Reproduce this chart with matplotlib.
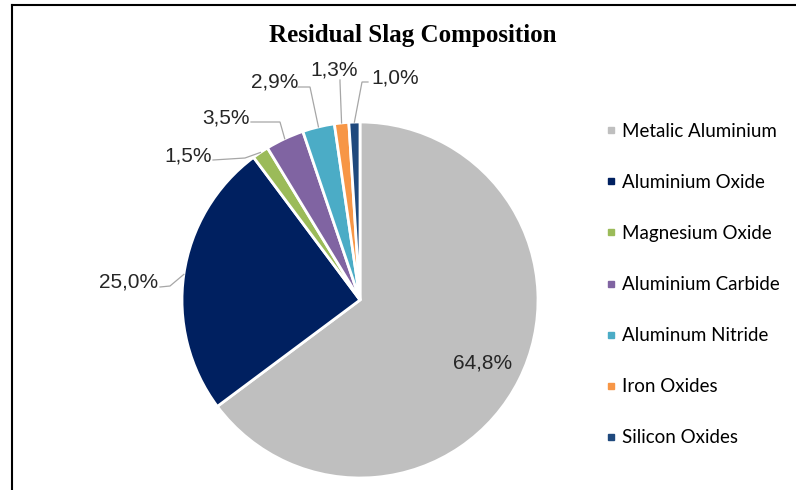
import matplotlib
matplotlib.use('Agg')
from matplotlib import pyplot as plt
from matplotlib.lines import Line2D
import numpy as np

# data
components = ['Metalic Aluminium', 'Aluminium Oxide', 'Magnesium Oxide',
              'Aluminium Carbide', 'Aluminum Nitride', 'Iron Oxides',
              'Silicon Oxides']
shares = [64.8, 25.0, 1.5, 3.5, 2.9, 1.3, 1.0]
colors = ['#BFBFBF', '#002060', '#9BBB59', '#8064A2', '#4BACC6', '#F79646',
          '#1F497D']

W, H = 796, 490

# label layout in pixels (from top-left): text anchor (baseline), leader start, elbow
outer_labels = {
    1: dict(text=(129, 288), start=(160, 287), elbow=(170, 286)),
    2: dict(text=(188, 162), start=(213, 160), elbow=(245, 158)),
    3: dict(text=(226, 123), start=(251, 122), elbow=(280, 122)),
    4: dict(text=(275, 88), start=(298, 87), elbow=(310, 87)),
    5: dict(text=(334, 75), start=(340, 80), elbow=(340, 82)),
    6: dict(text=(395, 83), start=(368, 82), elbow=(362, 82)),
}


def px(x, y):
    # pixel position (top-left origin) -> data coords of the full-figure axes
    return x, H - y


def fmt(v):
    return ('%.1f%%' % v).replace('.', ',')


fig = plt.figure(figsize=(W / 100, H / 100), dpi=100)
ax = fig.add_axes([0, 0, 1, 1])

cx, cy = px(360, 300)
radius = 178
wedges, _ = ax.pie(shares, colors=colors, startangle=90, counterclock=False,
                   center=(cx, cy), radius=radius,
                   wedgeprops=dict(edgecolor='white', linewidth=2))
ax.set_xlim(0, W)
ax.set_ylim(0, H)
ax.set_aspect('equal')
ax.axis('off')

label_font = dict(family='Liberation Sans', size=15, color='#262626')

# inside label for the big slice
w = wedges[0]
mid = np.deg2rad((w.theta1 + w.theta2) / 2)
ax.text(cx + 0.77 * radius * np.cos(mid), cy + 0.77 * radius * np.sin(mid) - 7,
        fmt(shares[0]), ha='center', va='baseline', **label_font)

for i, lay in outer_labels.items():
    w = wedges[i]
    mid = np.deg2rad((w.theta1 + w.theta2) / 2)
    ex, ey = cx + radius * np.cos(mid), cy + radius * np.sin(mid)
    tx, ty = px(*lay['text'])
    ax.text(tx, ty, fmt(shares[i]), ha='center', va='baseline', **label_font)
    sx, sy = px(*lay['start'])
    bx, by = px(*lay['elbow'])
    ax.plot([sx, bx, ex], [sy, by, ey], color='#A6A6A6', lw=0.9,
            solid_joinstyle='miter')

# legend
handles = [Line2D([], [], ls='none', marker='s', markersize=4.3,
                  markerfacecolor=c, markeredgecolor=c) for c in colors]
leg = fig.legend(handles, components, loc='upper left',
                 bbox_to_anchor=(605 / W, 1 - 123 / H),
                 frameon=False, prop=dict(family='Lato', size=13.5),
                 handlelength=0.6, handletextpad=0.3, labelspacing=1.815,
                 borderpad=0, borderaxespad=0)

# title
fig.text(413 / W, 1 - 42 / H, 'Residual Slag Composition', ha='center',
         va='baseline', family='Liberation Serif', weight='bold', size=18)

# frame lines (top and left)
fig.add_artist(Line2D([11.5 / W, 1], [1 - 5 / H, 1 - 5 / H],
                      transform=fig.transFigure, color='black', lw=1.5))
fig.add_artist(Line2D([11.5 / W, 11.5 / W], [0, 1 - 5 / H],
                      transform=fig.transFigure, color='black', lw=1.5))

fig.savefig('out.png', dpi=100)
